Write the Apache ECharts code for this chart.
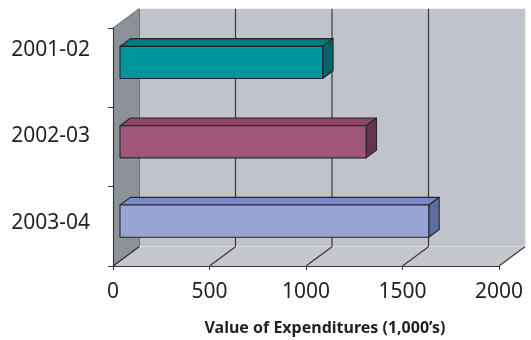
<!DOCTYPE html>
<html>
<head>
<meta charset="utf-8">
<script src="https://cdn.jsdelivr.net/npm/echarts@6/dist/echarts.min.js"></script>
<style>html,body{margin:0;padding:0;background:#fff}#c{width:531px;height:340px}</style>
</head>
<body>
<div id="c"></div>
<script>
const categories = ['2001-02', '2002-03', '2003-04'];
const values = [1050, 1275, 1600];
const xTicks = [0, 500, 1000, 1500, 2000];
const axisTitle = 'Value of Expenditures (1,000\u2019s)';

const frontColors = ['#00969b', '#a05678', '#98a5d4'];
const topColors = ['#007c80', '#8a4767', '#7a89c9'];
const sideColors = ['#006566', '#66344f', '#5d6d9c'];

const DX = 26, DY = -19.3;       // depth offset of the back wall
const F0 = 0.27, F1 = 0.67;      // bar depth (front/back fraction)
const BAR_FRAC = 0.405;
const FONT = 'Noto Sans';

const chart = echarts.init(document.getElementById('c'), null, {renderer: 'canvas'});

function renderWalls(params, api) {
  const x0 = api.coord([xTicks[0], 0])[0];
  const x2 = api.coord([xTicks[xTicks.length - 1], 0])[0];
  const band = api.size([0, 1])[1];
  const yTop = api.coord([0, 0])[1] - band / 2;
  const yBot = api.coord([0, categories.length - 1])[1] + band / 2;
  const children = [];
  children.push({type: 'polygon', shape: {points: [[x0 + DX, yTop + DY], [x2 + DX, yTop + DY], [x2 + DX, yBot + DY], [x0 + DX, yBot + DY]]}, style: {fill: '#c0c3c9'}});
  children.push({type: 'polygon', shape: {points: [[x0, yBot], [x0 + DX, yBot + DY], [x2 + DX, yBot + DY], [x2, yBot]]}, style: {fill: '#c5c7cc'}});
  children.push({type: 'line', shape: {x1: x0 + DX, y1: yBot + DY, x2: x2 + DX, y2: yBot + DY}, style: {stroke: '#dcdde0', lineWidth: 1}});
  children.push({type: 'line', shape: {x1: x2 + DX, y1: yTop + DY, x2: x2 + DX, y2: yBot + DY}, style: {stroke: '#d0d2d6', lineWidth: 1}});
  xTicks.forEach((t, i) => {
    const xp = api.coord([t, 0])[0];
    if (i < xTicks.length - 1) {
      children.push({type: 'line', shape: {x1: xp + DX, y1: yTop + DY, x2: xp + DX, y2: yBot + DY}, style: {stroke: '#3a3a3a', lineWidth: 1.2}});
    }
    children.push({type: 'line', shape: {x1: xp, y1: yBot, x2: xp + DX, y2: yBot + DY}, style: {stroke: '#333', lineWidth: 1.1}});
  });
  children.push({type: 'polygon', shape: {points: [[x0, yTop], [x0 + DX, yTop + DY], [x0 + DX, yBot + DY], [x0, yBot]]}, style: {fill: '#8b9399'}});
  children.push({type: 'line', shape: {x1: x0, y1: yTop, x2: x0 + DX, y2: yTop + DY}, style: {stroke: '#6a6e73', lineWidth: 1}});
  children.push({type: 'line', shape: {x1: x0, y1: yBot, x2: x0 + DX, y2: yBot + DY}, style: {stroke: '#333', lineWidth: 1.1}});
  return {type: 'group', children: children};
}

function renderBar(params, api) {
  const v = api.value(0), idx = api.value(1);
  const c0 = api.coord([0, idx]);
  const c1 = api.coord([v, idx]);
  const band = api.size([0, 1])[1];
  const h = band * BAR_FRAC / 2;
  const xl0 = c0[0] + F0 * DX, xr0 = c1[0] + F0 * DX;
  const xl1 = c0[0] + F1 * DX, xr1 = c1[0] + F1 * DX;
  const yc0 = c0[1] + F0 * DY, yc1 = c0[1] + F1 * DY;
  const st = {stroke: '#262626', lineWidth: 1.1, lineJoin: 'round'};
  return {type: 'group', children: [
    {type: 'polygon', shape: {points: [[xl0, yc0 - h], [xr0, yc0 - h], [xr1, yc1 - h], [xl1, yc1 - h]]}, style: Object.assign({fill: topColors[idx]}, st)},
    {type: 'polygon', shape: {points: [[xr0, yc0 - h], [xr1, yc1 - h], [xr1, yc1 + h], [xr0, yc0 + h]]}, style: Object.assign({fill: sideColors[idx]}, st)},
    {type: 'rect', shape: {x: xl0, y: yc0 - h, width: xr0 - xl0, height: 2 * h}, style: Object.assign({fill: frontColors[idx]}, st)}
  ]};
}

const option = {
  animation: false,
  backgroundColor: '#ffffff',
  title: {
    text: axisTitle,
    left: 320, top: 315, textAlign: 'center',
    textStyle: {fontFamily: FONT, fontSize: 16, fontWeight: 'bold', color: '#231f20'}
  },
  grid: [
    {left: 113, right: 32, top: 28, bottom: 74},
    {left: 113, right: 32, top: 7, bottom: 74}
  ],
  xAxis: [
    {
      gridIndex: 0, type: 'value', min: 0, max: 2000, interval: 500, z: 3,
      axisLine: {show: true, lineStyle: {color: '#333', width: 1.1}},
      axisTick: {show: true, length: 4, lineStyle: {color: '#333'}},
      splitLine: {show: false},
      axisLabel: {fontFamily: FONT, fontSize: 21, color: '#231f20', margin: 16,
                  formatter: (v) => String(v)}
    },
    {gridIndex: 1, type: 'value', min: 0, max: 2000, show: false}
  ],
  yAxis: [
    {
      gridIndex: 0, type: 'category', data: categories, inverse: true, z: 3,
      axisLine: {show: true, lineStyle: {color: '#333', width: 1.1}},
      axisTick: {show: true, length: 5, lineStyle: {color: '#333'}},
      axisLabel: {show: false},
      splitLine: {show: false}
    },
    {
      gridIndex: 1, type: 'category', data: categories, inverse: true,
      axisLine: {show: false}, axisTick: {show: false}, splitLine: {show: false},
      axisLabel: {fontFamily: FONT, fontSize: 21, color: '#231f20', margin: 23}
    }
  ],
  series: [
    {type: 'custom', xAxisIndex: 0, yAxisIndex: 0, z: 1, clip: false, silent: true,
     renderItem: renderWalls, data: [[0, 0]]},
    {type: 'custom', xAxisIndex: 0, yAxisIndex: 0, z: 4, clip: false,
     renderItem: renderBar, data: values.map((v, i) => [v, i])}
  ]
};
chart.setOption(option);
</script>
</body>
</html>
